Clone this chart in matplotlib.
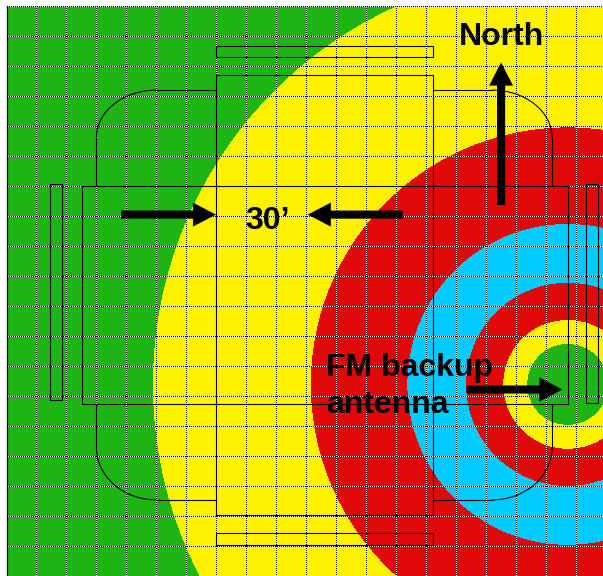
import matplotlib
matplotlib.use("Agg")
import matplotlib.pyplot as plt
from matplotlib.patches import Circle, Rectangle, Arc

# Coverage bands (grid-cell units: 1 cell = 30 arc-minutes)
ring_center = (18.72, 6.37)
ring_radii = [13.82, 8.55, 5.33, 3.37, 2.13, 1.33]
ring_colors = ["#FFF200", "#E00808", "#00CCFF", "#E00808", "#FFF200", "#1EB414"]
outer_color = "#1EB414"

x_limits = (0, 19.9)
y_limits = (0, 19)
x_grid = list(range(0, 20))
y_grid = list(range(0, 20))

# Outline boxes: x0, y0, x1, y1
boxes = [
    (7.0, 17.28, 14.22, 17.65),
    (7.0, 2.02, 14.22, 16.68),
    (7.0, 1.02, 14.22, 1.42),
    (2.52, 5.72, 18.72, 12.98),
    (1.45, 5.85, 1.85, 13.05),
    (19.33, 5.75, 19.73, 13.05),
]
# Rounded outline: straight pieces x0, y0, x1, y1
outline_segments = [
    (7.0, 16.18, 5.0, 16.18),
    (3.0, 14.6, 3.0, 12.98),
    (3.0, 5.72, 3.0, 4.27),
    (5.0, 2.52, 7.0, 2.52),
    (14.22, 16.18, 16.2, 16.18),
    (18.2, 14.6, 18.2, 12.98),
    (18.2, 5.72, 18.2, 4.27),
    (16.2, 2.52, 14.22, 2.52),
]
# Rounded corners: cx, cy, width, height, theta1, theta2
outline_arcs = [
    (5.0, 14.6, 4.0, 3.16, 90, 180),
    (5.0, 4.27, 4.0, 3.5, 180, 270),
    (16.2, 14.6, 4.0, 3.16, 0, 90),
    (16.2, 4.27, 4.0, 3.5, 270, 360),
]
# Arrows: x, y, dx, dy
arrows = [
    (3.82, 12.03, 3.17, 0),
    (13.22, 12.03, -3.17, 0),
    (15.35, 6.2, 3.2, 0),
    (16.5, 12.35, 0, 4.75),
]
labels = ["North", "30’", "FM backup\nantenna"]
label_pos = [(15.08, 17.68), (7.98, 11.55), (10.66, 5.42)]

fig = plt.figure(figsize=(6.03, 5.76), dpi=100)
ax = fig.add_axes([6.5 / 603, 1 - 575.5 / 576, (603 - 6.5) / 603, 570 / 576])
ax.set_xlim(*x_limits)
ax.set_ylim(*y_limits)
ax.set_facecolor(outer_color)

for r, c in zip(ring_radii, ring_colors):
    ax.add_patch(Circle(ring_center, r, facecolor=c, edgecolor="none",
                        antialiased=False, zorder=1))

dots = (0.5, (1, 1))
for v in x_grid:
    ax.axvline(v, color="white", lw=0.72, zorder=2, snap=True)
    ax.axvline(v, color="black", lw=0.72, ls=dots, zorder=2.1, snap=True)
for v in y_grid:
    ax.axhline(v, color="white", lw=0.72, zorder=2, clip_on=False, snap=True)
    ax.axhline(v, color="black", lw=0.72, ls=dots, zorder=2.1, clip_on=False, snap=True)

for x0, y0, x1, y1 in boxes:
    ax.add_patch(Rectangle((x0, y0), x1 - x0, y1 - y0, fill=False,
                           edgecolor="black", lw=0.8, zorder=3))
for x0, y0, x1, y1 in outline_segments:
    ax.plot([x0, x1], [y0, y1], color="black", lw=0.8, zorder=3)
for cx, cy, w, h, t1, t2 in outline_arcs:
    ax.add_patch(Arc((cx, cy), w, h, theta1=t1, theta2=t2,
                     edgecolor="black", lw=0.8, zorder=3))

for x, y, dx, dy in arrows:
    ax.arrow(x, y, dx, dy, width=0.27, head_width=0.8, head_length=0.77,
             length_includes_head=True, facecolor="black", edgecolor="none", zorder=4)

for s, (x, y) in zip(labels, label_pos):
    ax.text(x, y, s, family="Liberation Sans", fontweight="bold", fontsize=23,
            color="black", ha="left", va="baseline", linespacing=1.28, zorder=5)

ax.set_xticks([])
ax.set_yticks([])
for name, spine in ax.spines.items():
    spine.set_visible(name == "left")
    spine.set_linewidth(0.9)

fig.savefig("out.png", dpi=100)
